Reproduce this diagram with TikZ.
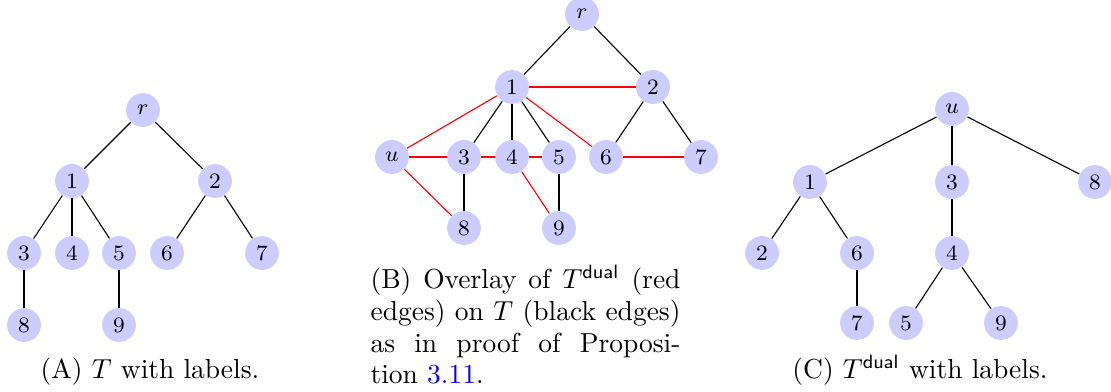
\documentclass[tikz,border=0pt]{standalone}
\usepackage{amsmath,amssymb}
\usepackage{tikz}
\usetikzlibrary{positioning}
\tikzset{
  vtx/.style  = {circle, fill=blue!20, minimum size=12.3pt, inner sep=0pt,
                 font=\footnotesize},
  e/.style    = {black, thin},
  de/.style   = {red, thin},
  capt/.style = {inner sep=0pt, font=\fontsize{10}{11.5}\selectfont}
}
\begin{document}
\begin{tikzpicture}[x=0.3636pt,y=0.3636pt]
  \useasboundingbox (0,0) rectangle (1111,391);
  % ---- (A): the tree T ----
  \node[vtx] (ar) at (143,281) {$r$};
  \node[vtx] (a1) at (72,210) {1};
  \node[vtx] (a2) at (215,210) {2};
  \node[vtx] (a3) at (24,138) {3};
  \node[vtx] (a4) at (72,138) {4};
  \node[vtx] (a5) at (119,138) {5};
  \node[vtx] (a6) at (167,138) {6};
  \node[vtx] (a7) at (262,138) {7};
  \node[vtx] (a8) at (24,66) {8};
  \node[vtx] (a9) at (119,66) {9};
  \draw[e] (ar) -- (a1); \draw[e] (ar) -- (a2);
  \draw[e] (a1) -- (a3); \draw[e] (a1) -- (a4); \draw[e] (a1) -- (a5);
  \draw[e] (a2) -- (a6); \draw[e] (a2) -- (a7);
  \draw[e] (a3) -- (a8); \draw[e] (a5) -- (a9);
  \node[capt, anchor=base] (capa) at (150,13) {(A) $T$ with labels.};
  % ---- (B): overlay of T^dual on T ----
  \node[vtx] (br) at (582,377) {$r$};
  \node[vtx] (b1) at (512,304) {1};
  \node[vtx] (b2) at (653,304) {2};
  \node[vtx] (bu) at (392,234) {$u$};
  \node[vtx] (b3) at (464,234) {3};
  \node[vtx] (b4) at (512,234) {4};
  \node[vtx] (b5) at (559,234) {5};
  \node[vtx] (b6) at (606,234) {6};
  \node[vtx] (b7) at (701,234) {7};
  \node[vtx] (b8) at (464,163) {8};
  \node[vtx] (b9) at (559,163) {9};
  \draw[e] (br) -- (b1); \draw[e] (br) -- (b2);
  \draw[e] (b1) -- (b3); \draw[e] (b1) -- (b4); \draw[e] (b1) -- (b5);
  \draw[e] (b2) -- (b6); \draw[e] (b2) -- (b7);
  \draw[e] (b3) -- (b8); \draw[e] (b5) -- (b9);
  \draw[de] (bu) -- (b1); \draw[de] (bu) -- (b3); \draw[de] (bu) -- (b8);
  \draw[de] (b1) -- (b2); \draw[de] (b1) -- (b6); \draw[de] (b6) -- (b7);
  \draw[de] (b3) -- (b4); \draw[de] (b4) -- (b5); \draw[de] (b4) -- (b9);
  \node[capt, anchor=north west, text width=112.7pt, align=justify] (capb)
    at (370,126) {(B) Overlay of $T^{\mathsf{dual}}$ (red edges) on $T$
    (black edges) as in proof of Proposition~\textcolor{blue}{3.11}.};
  % ---- (C): the tree T^dual ----
  \node[vtx] (cu) at (952,282) {$u$};
  \node[vtx] (c1) at (810,209) {1};
  \node[vtx] (c3) at (952,209) {3};
  \node[vtx] (c8) at (1095,209) {8};
  \node[vtx] (c2) at (762,138) {2};
  \node[vtx] (c6) at (857,138) {6};
  \node[vtx] (c4) at (952,138) {4};
  \node[vtx] (c7) at (857,68) {7};
  \node[vtx] (c5) at (906,68) {5};
  \node[vtx] (c9) at (1001,68) {9};
  \draw[e] (cu) -- (c1); \draw[e] (cu) -- (c3); \draw[e] (cu) -- (c8);
  \draw[e] (c1) -- (c2); \draw[e] (c1) -- (c6); \draw[e] (c6) -- (c7);
  \draw[e] (c3) -- (c4); \draw[e] (c4) -- (c5); \draw[e] (c4) -- (c9);
  \node[capt, anchor=base] (capc) at (920,13) {(C) $T^{\mathsf{dual}}$ with labels.};
\end{tikzpicture}
\end{document}
